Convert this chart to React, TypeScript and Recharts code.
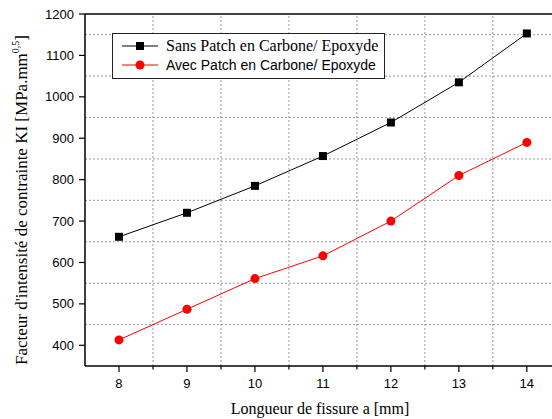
import { LineChart, Line, XAxis, YAxis, ReferenceLine } from "recharts";

// crack length a [mm]
const fissure = [8, 9, 10, 11, 12, 13, 14];
const sansPatch = [662, 720, 785, 857, 938, 1035, 1153];
const avecPatch = [413, 487, 561, 616, 700, 810, 890];

const xMajor = [8, 9, 10, 11, 12, 13, 14];
const xMinor = [8.5, 9.5, 10.5, 11.5, 12.5, 13.5];
const yMajor = [400, 500, 600, 700, 800, 900, 1000, 1100, 1200];
const yMinor = [450, 550, 650, 750, 850, 950, 1050, 1150];

const rows = fissure.map((a, i) => ({ a, sans: sansPatch[i], avec: avecPatch[i] }));

const sans = "'Liberation Sans', Arial, sans-serif";
const serif = "'Liberation Serif', 'Times New Roman', serif";

const legendItems = [
  { label: "Sans Patch en Carbone/ Epoxyde", color: "#000", marker: "square", font: serif, size: 16 },
  { label: "Avec Patch en Carbone/ Epoxyde", color: "#ff0000", marker: "circle", font: sans, size: 14 },
];

function XTick(props: any) {
  const { x, y, payload } = props;
  const major = xMajor.includes(payload.value);
  return (
    <g>
      <line x1={x} x2={x} y1={y} y2={y + (major ? 6 : 3.5)} stroke="#000" strokeWidth={1.2} />
      {major && (
        <text x={x} y={y + 22} textAnchor="middle" fontFamily={sans} fontSize={13} fill="#000">
          {payload.value}
        </text>
      )}
    </g>
  );
}

function YTick(props: any) {
  const { x, y, payload } = props;
  const major = yMajor.includes(payload.value);
  return (
    <g>
      <line x1={x - (major ? 6 : 3.5)} x2={x} y1={y} y2={y} stroke="#000" strokeWidth={1.2} />
      {major && (
        <text x={x - 11} y={y + 4.5} textAnchor="end" fontFamily={sans} fontSize={13} fill="#000">
          {payload.value}
        </text>
      )}
    </g>
  );
}

function YTitle() {
  return (
    <text transform="translate(27,200) rotate(-90)" textAnchor="middle" fontFamily={serif} fontSize={17} fill="#000">
      Facteur d'intensité de contrainte KI [MPa.mm
      <tspan dy={-8} fontSize={10}>0,5</tspan>
      <tspan dy={8}>]</tspan>
    </text>
  );
}

function XTitle() {
  return (
    <text x={320} y={414} textAnchor="middle" fontFamily={serif} fontSize={16} fill="#000">
      Longueur de fissure a [mm]
    </text>
  );
}

function SquareDot(props: any) {
  const { cx, cy, index } = props;
  return <rect key={"sq" + index} x={cx - 4} y={cy - 4} width={8} height={8} fill="#000" />;
}

function LegendBox() {
  return (
    <div
      style={{
        position: "absolute",
        left: 112,
        top: 33,
        width: 271,
        height: 42,
        border: "1px solid #222",
        background: "#fff",
        paddingTop: 2,
      }}
    >
      {legendItems.map((it) => (
        <div key={it.label} style={{ display: "flex", alignItems: "center", height: 19 }}>
          <svg width={50} height={19}>
            <line x1={9} x2={45} y1={10} y2={10} stroke={it.color} strokeWidth={1.2} />
            {it.marker === "square" ? (
              <rect x={23} y={6} width={8} height={8} fill={it.color} />
            ) : (
              <circle cx={27} cy={10} r={4.5} fill={it.color} />
            )}
          </svg>
          <span style={{ fontFamily: it.font, fontSize: it.size, color: "#000", marginLeft: 3, whiteSpace: "nowrap" }}>
            {it.label}
          </span>
        </div>
      ))}
    </div>
  );
}

export default function App() {
  return (
    <div style={{ position: "absolute", left: 0, top: 0, width: 552, height: 419, background: "#fff", overflow: "hidden" }}>
      <LineChart width={552} height={419} data={rows} margin={{ top: 14, right: 0, left: 0, bottom: 0 }}>
        <XAxis
          type="number"
          dataKey="a"
          domain={[7.5, 14.37]}
          ticks={[...xMajor, ...xMinor].sort((p, q) => p - q)}
          allowDataOverflow
          height={53}
          tickSize={0}
          tickMargin={0}
          tickLine={false}
          tick={<XTick />}
          axisLine={{ stroke: "#000", strokeWidth: 1.5 }}
          label={<XTitle />}
        />
        <YAxis
          type="number"
          domain={[350, 1200]}
          ticks={[...yMajor, ...yMinor].sort((p, q) => p - q)}
          allowDataOverflow
          width={85}
          tickSize={0}
          tickMargin={0}
          tickLine={false}
          tick={<YTick />}
          axisLine={{ stroke: "#000", strokeWidth: 1.5 }}
          label={<YTitle />}
        />
        {xMinor.map((v) => (
          <ReferenceLine key={"gx" + v} x={v} stroke="#999" strokeWidth={1} strokeDasharray="2 2" ifOverflow="visible" />
        ))}
        {yMinor.map((v) => (
          <ReferenceLine key={"gy" + v} y={v} stroke="#999" strokeWidth={1} strokeDasharray="2 2" ifOverflow="visible" />
        ))}
        <ReferenceLine y={1200} stroke="#000" strokeWidth={1.5} ifOverflow="visible" />
        <Line dataKey="sans" stroke="#000" strokeWidth={1} dot={<SquareDot />} isAnimationActive={false} />
        <Line
          dataKey="avec"
          stroke="#ff0000"
          strokeWidth={1}
          dot={{ r: 4.5, fill: "#ff0000", stroke: "#ff0000", strokeWidth: 0 }}
          isAnimationActive={false}
        />
      </LineChart>
      <LegendBox />
    </div>
  );
}
